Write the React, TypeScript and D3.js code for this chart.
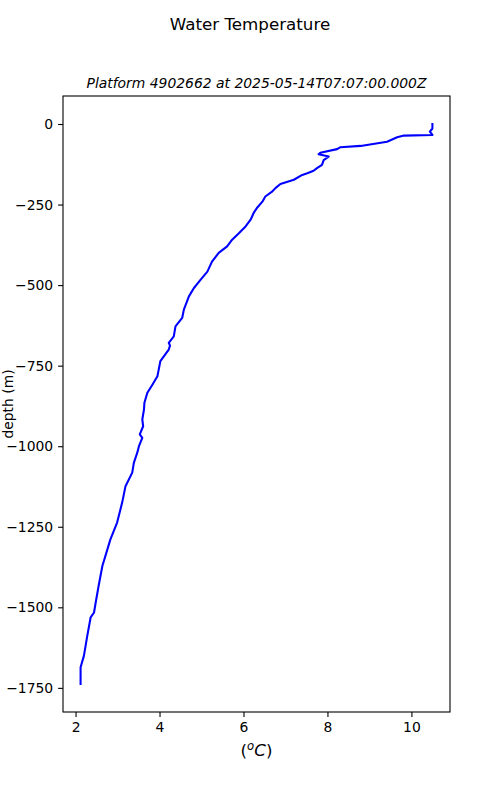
import React, { useRef, useEffect } from 'react'
import * as d3 from 'd3'

// profile, surface to bottom
const temperature = [
  10.50, 10.50, 10.44, 10.50, 9.82, 9.66, 9.42, 8.79, 8.31, 8.23,
  7.83, 7.79, 8.03, 7.91, 7.87, 7.75, 7.67, 7.52, 7.40, 7.20,
  6.88, 6.76, 6.68, 6.52, 6.45, 6.33, 6.25, 6.17, 6.05, 5.89,
  5.73, 5.61, 5.41, 5.25, 5.14, 4.98, 4.82, 4.70, 4.58, 4.54,
  4.38, 4.34, 4.22, 4.25, 4.22, 4.02, 3.95, 3.83, 3.71, 3.64,
  3.63, 3.59, 3.61, 3.53, 3.59, 3.51, 3.47, 3.39, 3.35, 3.19,
  3.11, 2.99, 2.83, 2.71, 2.64, 2.55, 2.48, 2.44, 2.36, 2.28,
  2.20, 2.12, 2.12
]
const depth = [
  0, -14, -24, -34, -36, -41, -55, -68, -72, -78,
  -89, -94, -101, -112, -127, -137, -145, -153, -158, -173,
  -186, -199, -210, -225, -241, -259, -274, -297, -318, -339,
  -359, -380, -400, -427, -458, -483, -509, -535, -576, -602,
  -628, -659, -679, -688, -700, -736, -783, -809, -834, -865,
  -886, -917, -938, -963, -974, -1000, -1020, -1051, -1082, -1124,
  -1175, -1237, -1289, -1341, -1371, -1433, -1485, -1516, -1531, -1588,
  -1650, -1686, -1738
]
const xTickValues = [2, 4, 6, 8, 10]
const yTickValues = [0, -250, -500, -750, -1000, -1250, -1500, -1750]

const figTitle = 'Water Temperature'
const axTitle = 'Platform 4902662 at 2025-05-14T07:07:00.000Z'
const yLabel = 'depth (m)'

const ProfileChart = () => {
  const boxRef = useRef<HTMLDivElement>(null)

  const buildChart = () => {
    const width = 500
    const height = 800
    const marginTop = 96
    const marginBottom = 88
    const marginLeft = 63
    const marginRight = 50
    const font = 'DejaVu Sans, sans-serif'

    // matplotlib style 5% padding around the data
    const pad = (ext: [number, number]) => {
      const d = (ext[1] - ext[0]) * 0.05
      return [ext[0] - d, ext[1] + d]
    }
    const xDomain = pad(d3.extent(temperature) as [number, number])
    const yDomain = pad(d3.extent(depth) as [number, number])

    const xScale = d3.scaleLinear(xDomain, [marginLeft, width - marginRight])
    const yScale = d3.scaleLinear(yDomain, [height - marginBottom, marginTop])

    const svg = d3.create('svg')
      .attr('width', width)
      .attr('height', height)
      .attr('viewBox', [0, 0, width, height])
      .attr('style', 'position:absolute;left:0;top:0;background:#fff')
      .attr('font-family', font)

    const fmt = (v: number) => (v < 0 ? '\u2212' + Math.abs(v) : String(v))

    svg.append('g')
      .attr('transform', `translate(0,${height - marginBottom})`)
      .call(d3.axisBottom(xScale).tickValues(xTickValues).tickSize(4.9).tickPadding(4.9).tickFormat(d => fmt(+d)))
      .call(g => g.select('.domain').remove())
      .call(g => g.selectAll('.tick line').attr('stroke', '#000').attr('stroke-width', 1.1))
      .call(g => g.selectAll('.tick text').attr('font-size', 13.9).attr('font-family', font).attr('fill', '#000'))

    svg.append('g')
      .attr('transform', `translate(${marginLeft},0)`)
      .call(d3.axisLeft(yScale).tickValues(yTickValues).tickSize(4.9).tickPadding(4.9).tickFormat(d => fmt(+d)))
      .call(g => g.select('.domain').remove())
      .call(g => g.selectAll('.tick line').attr('stroke', '#000').attr('stroke-width', 1.1))
      .call(g => g.selectAll('.tick text').attr('font-size', 13.9).attr('font-family', font).attr('fill', '#000'))

    const line = d3.line<number>()
      .x(i => xScale(temperature[i]))
      .y(i => yScale(depth[i]))

    svg.append('path')
      .datum(d3.range(depth.length))
      .attr('fill', 'none')
      .attr('stroke', '#0000ff')
      .attr('stroke-width', 2.08)
      .attr('stroke-linejoin', 'round')
      .attr('stroke-linecap', 'square')
      .attr('d', line)

    // frame
    svg.append('rect')
      .attr('x', marginLeft)
      .attr('y', marginTop)
      .attr('width', width - marginLeft - marginRight)
      .attr('height', height - marginTop - marginBottom)
      .attr('fill', 'none')
      .attr('stroke', '#000')
      .attr('stroke-width', 1.1)

    svg.append('text')
      .attr('x', width / 2)
      .attr('y', 30)
      .attr('text-anchor', 'middle')
      .attr('font-size', 16.7)
      .text(figTitle)

    svg.append('text')
      .attr('x', (marginLeft + width - marginRight) / 2)
      .attr('y', 88)
      .attr('text-anchor', 'middle')
      .attr('font-size', 13.9)
      .attr('font-style', 'italic')
      .text(axTitle)

    const xl = svg.append('text')
      .attr('x', (marginLeft + width - marginRight) / 2)
      .attr('y', 756)
      .attr('text-anchor', 'middle')
      .attr('font-size', 16.7)
    xl.append('tspan').text('(')
    xl.append('tspan').attr('font-style', 'italic').attr('font-size', 11.7).attr('dy', -6).text('o')
    xl.append('tspan').attr('font-style', 'italic').attr('dy', 6).text('C')
    xl.append('tspan').text(')')

    svg.append('text')
      .attr('transform', `translate(13,${(marginTop + height - marginBottom) / 2}) rotate(-90)`)
      .attr('text-anchor', 'middle')
      .attr('font-size', 13.9)
      .text(yLabel)

    return svg.node()
  }

  useEffect(() => {
    if (boxRef.current) {
      boxRef.current.innerHTML = ''
      const node = buildChart()
      if (node) boxRef.current.appendChild(node)
    }
  }, [])

  return <div ref={boxRef}></div>
}

export default function App() {
  return <ProfileChart />
}
